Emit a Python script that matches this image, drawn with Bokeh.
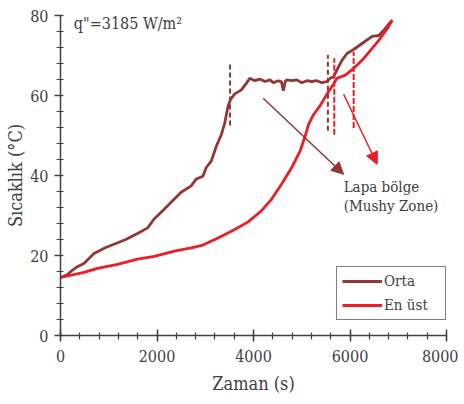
from bokeh.plotting import figure
from bokeh.models import (Range1d, FixedTicker, Legend, LegendItem, Label, Arrow, NormalHead)
from bokeh.embed import file_html
from bokeh.resources import INLINE

# ---- data ----
orta_t = [0, 139, 243, 350, 486, 694, 937, 1146, 1354, 1597, 1806, 1944, 2118, 2292, 2500, 2708,
          2812, 2951, 3021, 3125, 3229, 3333, 3403, 3472, 3528, 3611, 3750, 3854, 3924, 4028,
          4132, 4236, 4340, 4410, 4514, 4580, 4618, 4660, 4688, 4792, 4896, 5000, 5104, 5208,
          5312, 5417, 5521, 5590, 5660, 5764, 5833, 5938, 6076, 6250, 6458, 6597, 6701, 6806, 6875]
orta_T = [14.5, 15.2, 16.3, 17.2, 18.0, 20.5, 22.0, 23.0, 24.0, 25.5, 26.9, 29.2, 31.2, 33.3, 35.8, 37.4,
          39.1, 39.8, 42.0, 43.6, 47.3, 50.2, 53.1, 57.3, 59.1, 60.4, 61.4, 63.1, 64.3, 63.7,
          64.1, 63.5, 63.9, 63.2, 63.7, 63.4, 61.2, 63.5, 63.9, 63.7, 63.9, 63.2, 63.7, 63.5,
          63.7, 63.2, 63.5, 64.3, 64.7, 67.2, 68.8, 70.5, 71.5, 73.0, 74.8, 75.0, 76.3, 77.9, 78.8]

enust_t = [0, 486, 764, 1181, 1597, 1944, 2361, 2708, 2951, 3264, 3611, 3889, 4167, 4375, 4583,
           4792, 4965, 5069, 5139, 5243, 5382, 5451, 5556, 5660, 5729, 5903, 6076, 6250, 6424,
           6597, 6771, 6875]
enust_T = [14.5, 15.8, 16.8, 17.8, 19.1, 19.8, 21.1, 21.9, 22.6, 24.4, 26.5, 28.4, 31.2, 34.1, 37.9,
           42.0, 46.1, 49.8, 52.7, 55.2, 57.5, 58.9, 61.0, 62.9, 64.3, 65.1, 66.8, 68.8, 71.3,
           73.8, 76.7, 78.8]

series_names = ["Orta", "En üst"]

# mushy zone boundaries (time, T from, T to)
orta_zone_t = [3514, 5542]
orta_zone_y0 = [52.5, 51.2]
orta_zone_y1 = [68.3, 70.1]
enust_zone_t = [5674, 6076]
enust_zone_y0 = [50.2, 51.9]
enust_zone_y1 = [69.3, 70.9]

# arrows (start t, start T, end t, end T)
arrow_orta = [4201, 59.3, 5868, 40.3]
arrow_enust = [5868, 60.3, 6563, 42.8]

x_major = [0, 2000, 4000, 6000, 8000]
x_minor = list(range(0, 8001, 400))
y_major = [0, 20, 40, 60, 80]
y_minor = list(range(0, 81, 4))

FONT = "DejaVu Serif Condensed"
TXT = "#404040"
C_ORTA = "#943634"
C_ENUST = "#EE1C25"

p = figure(width=458, height=396, output_backend="svg", toolbar_location=None,
           x_range=Range1d(0, 8000), y_range=Range1d(0, 80),
           min_border_left=60, min_border_right=12, min_border_top=15, min_border_bottom=58,
           x_axis_label="Zaman (s)", y_axis_label="Sıcaklık (°C)")
p.outline_line_color = None
p.grid.grid_line_color = None
p.background_fill_color = "white"
p.border_fill_color = "white"

for ax, maj, mn in ((p.xaxis[0], x_major, x_minor), (p.yaxis[0], y_major, y_minor)):
    ax.ticker = FixedTicker(ticks=maj, minor_ticks=mn)
    ax.axis_line_color = TXT
    ax.axis_line_width = 1.5
    ax.major_tick_line_color = TXT
    ax.major_tick_line_width = 1.5
    ax.minor_tick_line_color = TXT
    ax.minor_tick_line_width = 1.2
    ax.major_label_text_font = FONT
    ax.major_label_text_font_size = "16px"
    ax.major_label_text_color = TXT
    ax.axis_label_text_font = FONT
    ax.axis_label_text_font_size = "18px"
    ax.axis_label_text_font_style = "normal"
    ax.axis_label_text_color = TXT

p.xaxis.major_tick_in = 6
p.xaxis.major_tick_out = 6
p.xaxis.minor_tick_in = 3
p.xaxis.minor_tick_out = 4
p.xaxis.major_label_standoff = 8
p.xaxis.axis_label_standoff = 8
p.yaxis.major_tick_in = 2
p.yaxis.major_tick_out = 6
p.yaxis.minor_tick_in = 3
p.yaxis.minor_tick_out = 4
p.yaxis.major_label_standoff = 6
p.yaxis.axis_label_standoff = 1

r1 = p.line(orta_t, orta_T, line_color=C_ORTA, line_width=2.8)
r2 = p.line(enust_t, enust_T, line_color=C_ENUST, line_width=2.8)

# dashed zone limits
p.segment(x0=orta_zone_t, y0=orta_zone_y0, x1=orta_zone_t, y1=orta_zone_y1,
          line_color=C_ORTA, line_width=2, line_dash="5 3")
p.segment(x0=enust_zone_t, y0=enust_zone_y0, x1=enust_zone_t, y1=enust_zone_y1,
          line_color=C_ENUST, line_width=2, line_dash="6 2")

# arrows
p.add_layout(Arrow(x_start=arrow_orta[0], y_start=arrow_orta[1], x_end=arrow_orta[2], y_end=arrow_orta[3],
                   line_color=C_ORTA, line_width=1.5,
                   end=NormalHead(size=12, fill_color=C_ORTA, line_color=C_ORTA)))
p.add_layout(Arrow(x_start=arrow_enust[0], y_start=arrow_enust[1], x_end=arrow_enust[2], y_end=arrow_enust[3],
                   line_color=C_ENUST, line_width=1.5,
                   end=NormalHead(size=12, fill_color=C_ENUST, line_color=C_ENUST)))

# texts
def lbl(x, y, text, size):
    p.add_layout(Label(x=x, y=y, text=text, text_font=FONT, text_font_size=size,
                       text_color=TXT, text_align="left", text_baseline="alphabetic"))

lbl(277, 77.9, "q\"=3185 W/m²", "16px")
lbl(5868, 37.1, "Lapa bölge", "15px")
lbl(5868, 32.5, "(Mushy Zone)", "15px")

legend = Legend(items=[LegendItem(label=series_names[0], renderers=[r1]),
                       LegendItem(label=series_names[1], renderers=[r2])],
                location=(276, 15), orientation="vertical",
                padding=5, spacing=6, margin=0,
                glyph_width=40, glyph_height=14, label_height=14, label_width=56,
                label_standoff=2,
                label_text_font=FONT, label_text_font_size="15px", label_text_color=TXT,
                border_line_color="black", border_line_width=1.5,
                background_fill_color="white", background_fill_alpha=1.0)
p.add_layout(legend)

open("out.html", "w").write(file_html(p, INLINE))
